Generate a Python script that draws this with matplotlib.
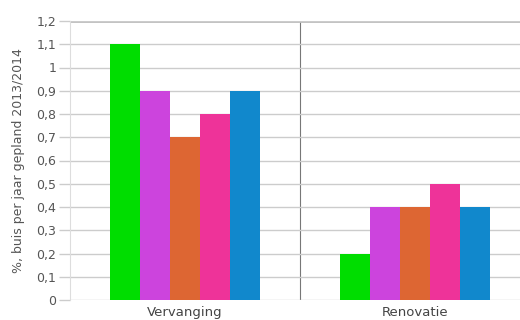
import numpy as np
import matplotlib.pyplot as plt

categories = ['Vervanging', 'Renovatie']
series = [
    [1.1, 0.2],
    [0.9, 0.4],
    [0.7, 0.4],
    [0.8, 0.5],
    [0.9, 0.4],
]
colors = ['#00dd00', '#cc44dd', '#dd6633', '#ee3399', '#1188cc']
yticks = np.round(np.arange(0, 1.21, 0.1), 1)
ylabel = '%, buis per jaar gepland 2013/2014'

fig = plt.figure(figsize=(5.2, 3.2), dpi=100)
ax = fig.add_axes([70 / 520, 20 / 320, 450 / 520, 279 / 320])

x = np.arange(len(categories))
w = 0.131
for i, (vals, c) in enumerate(zip(series, colors)):
    ax.bar(x + (i - 2) * w, vals, width=w, color=c, zorder=3)

ax.set_xlim(-0.5, 1.5 - 10 / 230)
ax.set_ylim(0, 1.2)
ax.set_yticks(yticks)
ax.set_yticklabels([('%g' % v).replace('.', ',') for v in yticks])
ax.set_xticks(x)
ax.set_xticklabels(categories)
ax.tick_params(axis='x', length=0, pad=4, labelsize=9.5, labelcolor='#444444')
ax.tick_params(axis='y', length=8, width=1, color='#cccccc', pad=2,
               labelsize=9, labelcolor='#555555')
ax.grid(axis='y', color='#cccccc', linewidth=1, zorder=0)
ax.axvline(0.5, color='#777777', linewidth=0.8, zorder=1)
for s in ['top', 'right', 'bottom']:
    ax.spines[s].set_visible(False)
ax.spines['left'].set_color('#dddddd')
ax.axhline(1.2, color='#bbbbbb', linewidth=2, zorder=1)
ax.set_ylabel(ylabel, fontsize=9, color='#555555', labelpad=8)

fig.savefig('out.png', dpi=100)
